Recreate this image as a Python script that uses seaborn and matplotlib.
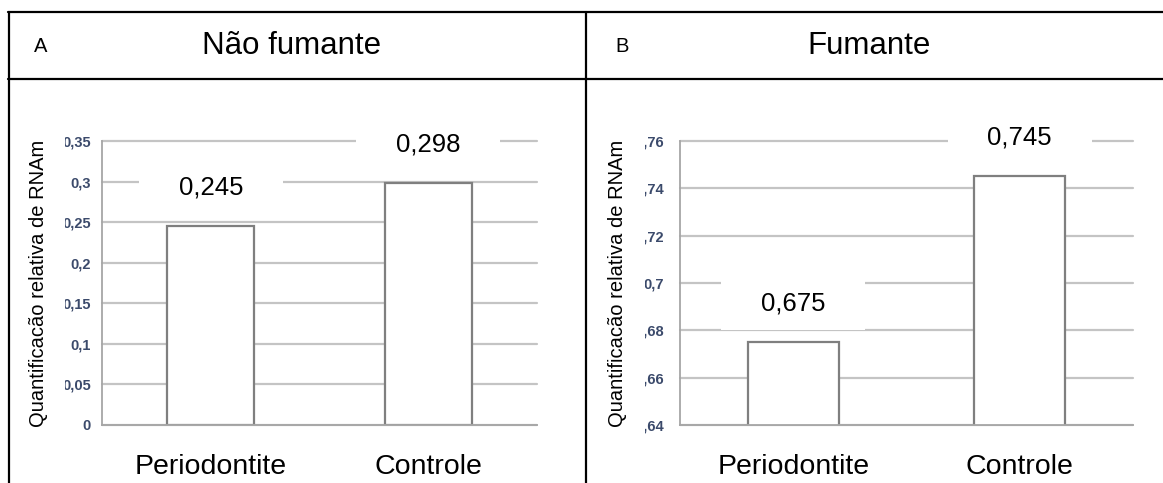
import seaborn as sns
import numpy as np
import pandas as pd
import matplotlib.pyplot as plt
from matplotlib.lines import Line2D
from matplotlib.patches import Rectangle
from matplotlib.transforms import Bbox, TransformedBbox, ScaledTranslation

# dados
categorias = ['Periodontite', 'Controle']
nao_fumante = [0.245, 0.298]
fumante = [0.675, 0.745]
rotulos_nao_fumante = ['0,245', '0,298']
rotulos_fumante = ['0,675', '0,745']

ticks_a = [0, 0.05, 0.1, 0.15, 0.2, 0.25, 0.3, 0.35]
ticklabels_a = ['0', '0,05', '0,1', '0,15', '0,2', '0,25', '0,3', '0,35']
ticks_b = [0.64, 0.66, 0.68, 0.7, 0.72, 0.74, 0.76]
ticklabels_b = ['0,64', '0,66', '0,68', '0,7', '0,72', '0,74', '0,76']

titulos = ['Não fumante', 'Fumante']
letras = ['A', 'B']
ylabel = 'Quantificacão relativa de RNAm'

sns.set_style('white', {'text.color': 'black', 'axes.labelcolor': 'black'})
plt.rcParams['font.family'] = ['Liberation Sans', 'DejaVu Sans']

W, H = 1163, 483
fig = plt.figure(figsize=(W / 100, H / 100), dpi=100)

cinza = '#a6a6a6'


def painel(ax, valores, rotulos, ticks, ticklabels, ylim, clip_x, pad_y, ylab_x):
    df = pd.DataFrame({'grupo': categorias, 'valor': valores})
    sns.barplot(data=df, x='grupo', y='valor', ax=ax, width=0.4, color='white',
                edgecolor='#7f7f7f', linewidth=1.6, saturation=1)
    ax.set_xlim(-0.5, 1.5)
    ax.set_ylim(*ylim)
    ax.set_yticks(ticks, ticklabels)
    ax.set_xlabel('')
    ax.set_ylabel(ylabel, fontsize=14.5, color='black')
    ax.yaxis.label.set_va('center')
    ax.yaxis.set_label_coords(ylab_x, 0.5)

    ax.yaxis.grid(True, color='#c4c4c4', linewidth=1.6, clip_on=False)
    ax.set_axisbelow(True)
    ax.spines[['top', 'right']].set_visible(False)
    for s in ['left', 'bottom']:
        ax.spines[s].set_color(cinza)
        ax.spines[s].set_linewidth(1.3)

    ax.tick_params(axis='y', length=4, width=1.2, color=cinza, pad=pad_y,
                   labelsize=10.5, labelcolor='#3b4a6b')
    ax.tick_params(axis='x', which='major', length=0, pad=21, labelsize=20.5,
                   labelcolor='black')
    ax.set_xticks([-0.5, 0.5, 1.5], minor=True)
    ax.tick_params(axis='x', which='minor', length=4, width=1.2, color=cinza)

    # rotulos do eixo y cortados a esquerda como no original
    caixa = TransformedBbox(Bbox.from_extents(clip_x / W, 0, 1, 1), fig.transFigure)
    for lbl in ax.get_yticklabels():
        lbl.set_fontweight('bold')
        lbl.set_clip_box(caixa)
        lbl.set_clip_on(True)

    for i, (v, txt) in enumerate(zip(valores, rotulos)):
        desloc = ScaledTranslation(i, v, ax.transData)
        ax.add_patch(Rectangle((-0.72, 0.12), 1.44, 0.54,
                               transform=fig.dpi_scale_trans + desloc,
                               facecolor='white', edgecolor='none',
                               zorder=1.5, clip_on=False))
        ax.annotate(txt, (i, v), xytext=(0, 28), textcoords='offset points',
                    ha='center', va='center', fontsize=18.5, color='black',
                    zorder=3)


ax_a = fig.add_axes([102 / W, 1 - 425 / H, 435 / W, 284 / H])
painel(ax_a, nao_fumante, rotulos_nao_fumante, ticks_a, ticklabels_a,
       (0, 0.35), 65, 4, -0.147)

ax_b = fig.add_axes([680 / W, 1 - 425 / H, 453 / W, 284 / H])
painel(ax_b, fumante, rotulos_fumante, ticks_b, ticklabels_b,
       (0.64, 0.76), 645, 7.3, -0.137)

# linhas da tabela
lw = 1.6
fig.add_artist(Line2D([8 / W, 1], [1 - 12 / H] * 2, color='black', lw=lw, transform=fig.transFigure))
fig.add_artist(Line2D([8 / W, 1], [1 - 79 / H] * 2, color='black', lw=lw, transform=fig.transFigure))
fig.add_artist(Line2D([9 / W] * 2, [0, 1 - 12 / H], color='black', lw=lw, transform=fig.transFigure))
fig.add_artist(Line2D([586 / W] * 2, [0, 1 - 12 / H], color='black', lw=lw, transform=fig.transFigure))

# cabecalho
y_cab = 1 - 46 / H
fig.text(41 / W, y_cab, letras[0], ha='center', va='center', fontsize=14.5)
fig.text(292 / W, y_cab, titulos[0], ha='center', va='center', fontsize=22.5)
fig.text(622 / W, y_cab, letras[1], ha='center', va='center', fontsize=14.5)
fig.text(869 / W, y_cab, titulos[1], ha='center', va='center', fontsize=22.5)

fig.savefig('out.png', dpi=100)
